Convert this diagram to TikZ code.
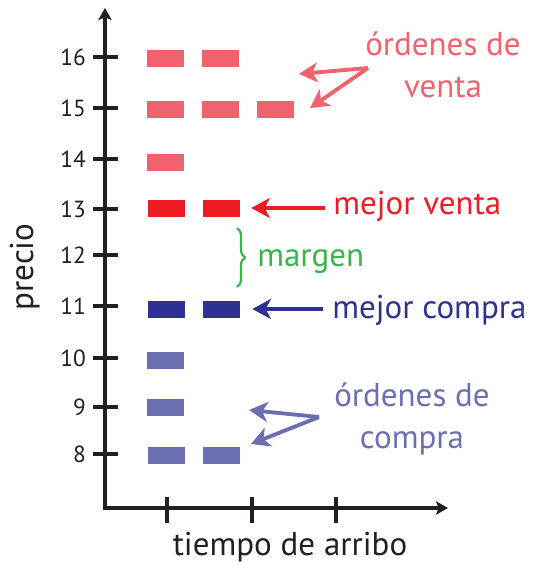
\documentclass[tikz,border=0pt]{standalone}
\usepackage{fontspec}
\setmainfont{PT Sans}
\usetikzlibrary{arrows.meta,positioning,decorations.pathreplacing}
\definecolor{venta}{RGB}{240,99,110}
\definecolor{mventa}{RGB}{237,28,36}
\definecolor{mcompra}{RGB}{46,49,146}
\definecolor{compra}{RGB}{108,110,178}
\definecolor{verde}{RGB}{57,181,74}
\definecolor{eje}{RGB}{35,31,32}
\begin{document}
\begin{tikzpicture}[x=0.75pt,y=-0.75pt,node distance=41.25pt,
        bar/.style={rectangle,minimum width=27.75pt,minimum height=12.75pt,inner sep=0},
        ejes/.style={draw=eje,line width=2.4pt},
        flecha/.style={line width=2.9pt,-{Stealth[length=14pt,width=15pt,inset=4pt]}},
        lab/.style={font=\fontsize{24.75}{31.5}\selectfont,inner sep=0},
        num/.style={font=\fontsize{17.5}{20}\selectfont,text=eje,inner sep=0,anchor=east}]
        \useasboundingbox (0,0) rectangle (536,571);
        \coordinate (ytop) at (105,8);
        \coordinate (o)    at (105,508);
        \coordinate (xtip) at (448,508);
        \draw[ejes,{Stealth[length=9pt,width=10pt,inset=2pt]}-{Stealth[length=9pt,width=10pt,inset=2pt]}] (ytop) -- (o) -- (xtip);
        \draw[ejes] (167,497) -- (167,523) (252,497) -- (252,523) (336,497) -- (336,523);
        \draw[ejes] (93,57) -- (118,57) (93,108) -- (118,108) (93,159) -- (118,159)
          (93,209) -- (118,209) (93,255) -- (118,255) (93,306) -- (118,306)
          (93,358) -- (118,358) (93,407) -- (118,407) (93,454) -- (118,454);
        \node[num] (n16) at (86,57)  {16};
        \node[num] (n15) at (86,108) {15};
        \node[num] (n14) at (86,159) {14};
        \node[num] (n13) at (86,209) {13};
        \node[num] (n12) at (86,255) {12};
        \node[num] (n11) at (86,306) {11};
        \node[num] (n10) at (86,358) {10};
        \node[num] (n9)  at (86,407) {9};
        \node[num] (n8)  at (86,454) {8};
        \node[lab,text=eje,anchor=base] (xl) at (290,555) {tiempo de arribo};
        \node[lab,text=eje,anchor=base,rotate=90] (yl) at (33,267) {precio};

        \node[bar,fill=venta]   (v16a) at (165,58)  {};
        \node[bar,fill=venta]   (v16b) [right of=v16a] {};
        \node[bar,fill=venta]   (v15a) at (165,109) {};
        \node[bar,fill=venta]   (v15b) [right of=v15a] {};
        \node[bar,fill=venta]   (v15c) [right of=v15b] {};
        \node[bar,fill=venta]   (v14a) at (165,162) {};
        \node[bar,fill=mventa]  (v13a) at (166,208) {};
        \node[bar,fill=mventa]  (v13b) [right of=v13a] {};
        \node[bar,fill=mcompra] (c11a) at (166,309) {};
        \node[bar,fill=mcompra] (c11b) [right of=c11a] {};
        \node[bar,fill=compra]  (c10a) at (165,360) {};
        \node[bar,fill=compra]  (c9a)  at (165,407) {};
        \node[bar,fill=compra]  (c8a)  at (166,455) {};
        \node[bar,fill=compra]  (c8b)  [right of=c8a] {};

        \node[lab,text=venta,align=center]  (ov) at (443,65)  {órdenes de\\venta};
        \node[lab,text=mventa,anchor=base west]  (mv) at (333,214) {mejor venta};
        \node[lab,text=verde,anchor=base west]   (mg) at (257,266) {margen};
        \node[lab,text=mcompra,anchor=base west] (mc) at (332,318) {mejor compra};
        \node[lab,text=compra,align=center] (oc) at (412,419) {órdenes de\\compra};
        \coordinate (ovt) at (368,68);
        \coordinate (ov1) at (299,74);
        \coordinate (ov2) at (310,108);
        \coordinate (oct) at (319,417);
        \coordinate (oc1) at (249,410);
        \coordinate (oc2) at (251,444);

        \draw[flecha,venta] (ovt) -- (ov1);
        \draw[flecha,venta] (ovt) -- (ov2);
        \draw[flecha,mventa,shorten <=6pt,shorten >=8.6pt] (mv.west |- v13b) -- (v13b.east);
        \draw[flecha,mcompra,shorten <=6.75pt,shorten >=9.4pt] (mc.west |- c11b) -- (c11b.east);
        \draw[flecha,compra] (oct) -- (oc1);
        \draw[flecha,compra] (oct) -- (oc2);
        \draw[verde,line width=1.6pt,decorate,decoration={brace,amplitude=6pt}] (237,228) -- (237,287);
      \end{tikzpicture}
\end{document}
